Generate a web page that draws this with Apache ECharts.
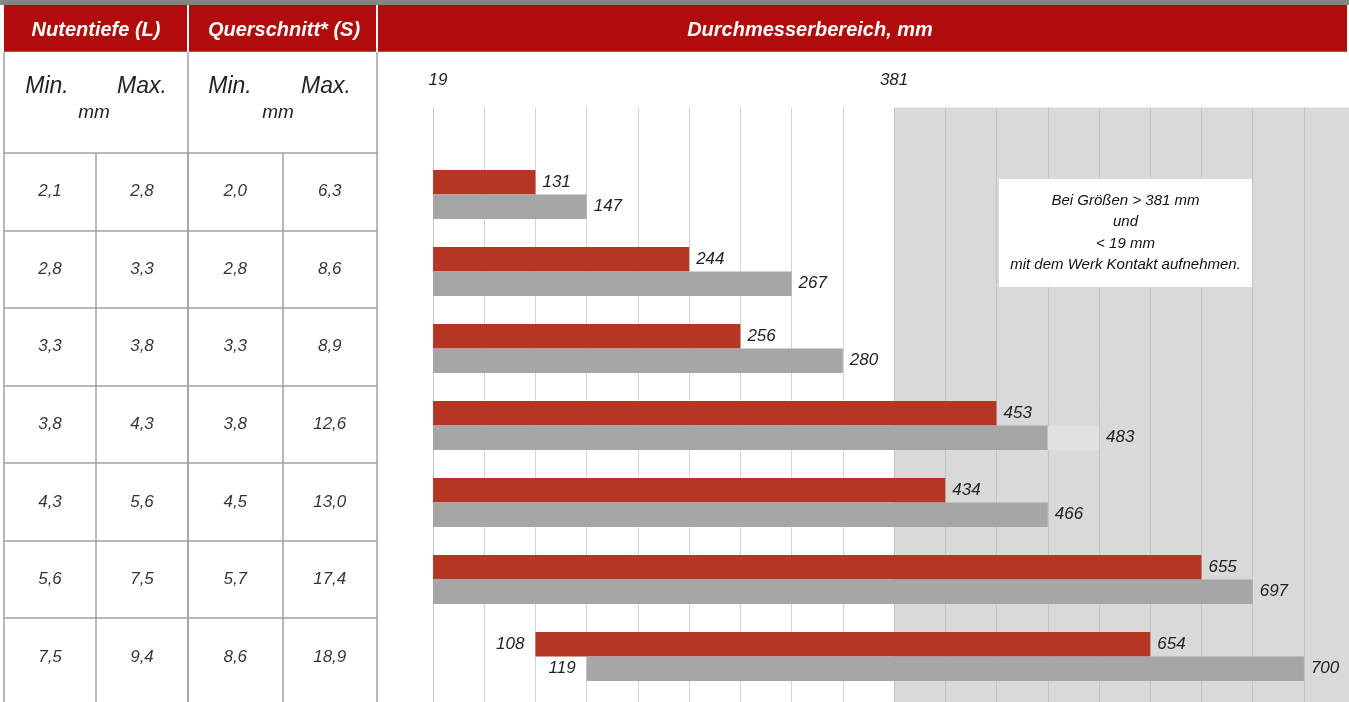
<!DOCTYPE html>
<html>
<head>
<meta charset="utf-8">
<title>Durchmesserbereich</title>
<script src="https://cdn.jsdelivr.net/npm/echarts@6/dist/echarts.min.js"></script>
<style>
  html, body { margin: 0; padding: 0; background: #fff; }
  #chart { width: 1349px; height: 702px; }
</style>
</head>
<body>
<div id="chart"></div>
<script>
  let rows = ['2,1-2,8', '2,8-3,3', '3,3-3,8', '3,8-4,3', '4,3-5,6', '5,6-7,5', '7,5-9,4'];

  // table: Nutentiefe (L) and Querschnitt* (S), mm
  let nutMin = [2.1, 2.8, 3.3, 3.8, 4.3, 5.6, 7.5];
  let nutMax = [2.8, 3.3, 3.8, 4.3, 5.6, 7.5, 9.4];
  let querMin = [2.0, 2.8, 3.3, 3.8, 4.5, 5.7, 8.6];
  let querMax = [6.3, 8.6, 8.9, 12.6, 13.0, 17.4, 18.9];

  // bars are drawn in grid steps (the chart is schematic), labels carry the mm values
  let redStart = [0, 0, 0, 0, 0, 0, 2];
  let redEnd = [2, 5, 6, 11, 10, 15, 14];
  let grayStart = [0, 0, 0, 0, 0, 0, 3];
  let grayEnd = [3, 7, 8, 12, 12, 16, 17];
  let grayExtra = [0, 0, 0, 1, 0, 0, 0];

  let redMinLabel = [null, null, null, null, null, null, 108];
  let redMaxLabel = [131, 244, 256, 453, 434, 655, 654];
  let grayMinLabel = [null, null, null, null, null, null, 119];
  let grayMaxLabel = [147, 267, 280, 483, 466, 697, 700];

  let tickSteps = [0, 9];
  let tickLabels = ['19', '381'];

  // visible part of the step axis / table rows
  let stepMax = 17.88;
  let rowMax = 7.08;

  let narrow = '"Liberation Sans Narrow", "Arial Narrow", sans-serif';
  let sans = '"Liberation Sans", Arial, sans-serif';

  let mychart = echarts.init(document.getElementById('chart'));

  function cells(a, b) {
    let list = [];
    a.forEach(function (v, i) {
      list.push([0.5, i + 0.5, v]);
      list.push([1.5, i + 0.5, b[i]]);
    });
    return list;
  }

  let hidden = {
    axisLine: { show: false },
    axisTick: { show: false },
    axisLabel: { show: false }
  };
  let colLine = { show: true, lineStyle: { color: '#a0a0a0', width: 1.5 } };
  let rowColors = [];
  for (let i = 0; i < 9; i++) rowColors.push(i < 7 ? '#a0a0a0' : 'transparent');
  let rowLine = { show: true, lineStyle: { color: rowColors, width: 1.5 } };

  let lineColors = [], areaColors = [];
  for (let i = 0; i <= 18; i++) {
    lineColors.push(i === 0 ? '#c6c6c6' : (i < 9 ? '#d4d4d4' : (i < 18 ? '#c4c4c4' : 'transparent')));
    if (i < 18) areaColors.push(i < 9 ? '#ffffff' : '#d9d9d9');
  }

  let labelFont = {
    color: '#222',
    fontFamily: sans,
    fontStyle: 'italic',
    fontSize: 17
  };

  let tableSeries = function (idx, a, b) {
    return {
      type: 'scatter',
      xAxisIndex: idx,
      yAxisIndex: idx,
      symbolSize: 0,
      silent: true,
      data: cells(a, b),
      label: {
        show: true,
        position: 'inside',
        color: '#000',
        fontFamily: narrow,
        fontStyle: 'italic',
        fontSize: 17,
        formatter: function (p) {
          return p.value[2].toFixed(1).replace('.', ',');
        }
      }
    };
  };

  let barBase = {
    type: 'bar',
    xAxisIndex: 3,
    yAxisIndex: 3,
    barWidth: 24.5,
    barGap: '0%',
    silent: true
  };

  function head(text, x) {
    return { type: 'text', silent: true, z: 103, x: x, y: 30, style: { text: text, fill: '#fff', font: 'italic bold 20px ' + narrow, textAlign: 'center', textVerticalAlign: 'middle', align: 'center', verticalAlign: 'middle' } };
  }
  function sub(text, x, y, font) {
    return { type: 'text', silent: true, z: 100, x: x, y: y, style: { text: text, fill: '#222', font: font, textAlign: 'center', textVerticalAlign: 'middle', align: 'center', verticalAlign: 'middle' } };
  }
  function vline(x) {
    return { type: 'line', silent: true, z: 100, shape: { x1: x, y1: 52, x2: x, y2: 153 }, style: { stroke: '#a0a0a0', lineWidth: 1.5 } };
  }

  let option = {
    animation: false,
    grid: [
      { left: 4, top: 152.7, width: 184, bottom: 0 },
      { left: 188, top: 152.7, width: 189, bottom: 0 },
      { left: 433, top: 107.5, right: 0, bottom: 0 },
      { left: 433, top: 156, right: 0, height: 539 }
    ],
    xAxis: [
      Object.assign({ gridIndex: 0, type: 'value', min: 0, max: 2, interval: 1, splitLine: colLine }, hidden),
      Object.assign({ gridIndex: 1, type: 'value', min: 0, max: 2, interval: 1, splitLine: colLine }, hidden),
      {
        gridIndex: 2, type: 'value', min: 0, max: stepMax, interval: 1, position: 'top',
        axisLine: { show: false },
        axisTick: { show: false },
        axisLabel: Object.assign({
          margin: 19,
          showMaxLabel: false,
          formatter: function (v) {
            let k = tickSteps.indexOf(v);
            if (k < 0) return '';
            return k === 0 ? '{first|' + tickLabels[k] + '}' : tickLabels[k];
          },
          rich: { first: { padding: [0, 0, 0, 10], color: '#222', fontFamily: sans, fontStyle: 'italic', fontSize: 17 } }
        }, labelFont),
        splitLine: { show: true, lineStyle: { color: lineColors, width: 1 } },
        splitArea: { show: true, areaStyle: { color: areaColors } }
      },
      Object.assign({ gridIndex: 3, type: 'value', min: 0, max: stepMax, splitLine: { show: false } }, hidden)
    ],
    yAxis: [
      Object.assign({ gridIndex: 0, type: 'value', min: 0, max: rowMax, interval: 1, inverse: true, splitLine: rowLine }, hidden),
      Object.assign({ gridIndex: 1, type: 'value', min: 0, max: rowMax, interval: 1, inverse: true, splitLine: rowLine }, hidden),
      Object.assign({ gridIndex: 2, type: 'value', min: 0, max: 1, splitLine: { show: false } }, hidden),
      Object.assign({ gridIndex: 3, type: 'category', data: rows, inverse: true, splitLine: { show: false } }, hidden)
    ],
    graphic: [
      { type: 'rect', silent: true, z: 100, shape: { x: 0, y: 0, width: 1349, height: 5 }, style: { fill: '#858585' } },
      { type: 'rect', silent: true, z: 100, shape: { x: 4, y: 5, width: 1343, height: 47 }, style: { fill: '#b10c0c' } },
      { type: 'rect', silent: true, z: 101, shape: { x: 4, y: 51, width: 1343, height: 1 }, style: { fill: '#c84848' } },
      { type: 'rect', silent: true, z: 102, shape: { x: 187, y: 5, width: 2, height: 47 }, style: { fill: '#ffffff' } },
      { type: 'rect', silent: true, z: 102, shape: { x: 376, y: 5, width: 2, height: 47 }, style: { fill: '#ffffff' } },
      head('Nutentiefe (L)', 96),
      head('Querschnitt* (S)', 284),
      head('Durchmesserbereich, mm', 810),
      vline(4), vline(188), vline(377),
      sub('Min.', 47, 87, 'italic 23px ' + sans),
      sub('Max.', 142, 87, 'italic 23px ' + sans),
      sub('mm', 94, 113, 'italic 19px ' + narrow),
      sub('Min.', 230, 87, 'italic 23px ' + sans),
      sub('Max.', 326, 87, 'italic 23px ' + sans),
      sub('mm', 278, 113, 'italic 19px ' + narrow),
      { type: 'rect', silent: true, z: 100, shape: { x: 999, y: 179, width: 253, height: 108 }, style: { fill: '#ffffff' } },
      { type: 'text', silent: true, z: 101, x: 1125.5, y: 233, style: { text: 'Bei Größen > 381 mm\nund\n< 19 mm\nmit dem Werk Kontakt aufnehmen.', fill: '#111', font: 'italic 15px ' + narrow, lineHeight: 21.5, textAlign: 'center', textVerticalAlign: 'middle', align: 'center', verticalAlign: 'middle' } }
    ],
    series: [
      tableSeries(0, nutMin, nutMax),
      tableSeries(1, querMin, querMax),
      Object.assign({}, barBase, {
        name: 'redBase', stack: 'red',
        itemStyle: { color: 'transparent' },
        label: Object.assign({ position: 'insideRight', distance: 11, formatter: function (p) { return redMinLabel[p.dataIndex]; } }, labelFont),
        data: redStart.map(function (v, i) { return { value: v, label: { show: redMinLabel[i] != null } }; })
      }),
      Object.assign({}, barBase, {
        name: 'red', stack: 'red',
        itemStyle: { color: '#b53624' },
        label: Object.assign({ show: true, position: 'right', distance: 7, formatter: function (p) { return redMaxLabel[p.dataIndex]; } }, labelFont),
        data: redEnd.map(function (v, i) { return v - redStart[i]; })
      }),
      Object.assign({}, barBase, {
        name: 'grayBase', stack: 'gray',
        itemStyle: { color: 'transparent' },
        label: Object.assign({ position: 'insideRight', distance: 11, formatter: function (p) { return grayMinLabel[p.dataIndex]; } }, labelFont),
        data: grayStart.map(function (v, i) { return { value: v, label: { show: grayMinLabel[i] != null } }; })
      }),
      Object.assign({}, barBase, {
        name: 'gray', stack: 'gray',
        itemStyle: { color: '#a6a6a6' },
        label: Object.assign({ position: 'right', distance: 7, formatter: function (p) { return grayMaxLabel[p.dataIndex]; } }, labelFont),
        data: grayEnd.map(function (v, i) { return { value: v - grayStart[i], label: { show: grayExtra[i] === 0 } }; })
      }),
      Object.assign({}, barBase, {
        name: 'grayExtra', stack: 'gray',
        itemStyle: { color: '#e0e0e0' },
        label: Object.assign({ position: 'right', distance: 7, formatter: function (p) { return grayMaxLabel[p.dataIndex]; } }, labelFont),
        data: grayExtra.map(function (v) { return { value: v, label: { show: v > 0 } }; })
      })
    ]
  };

  mychart.setOption(option);
</script>
</body>
</html>
